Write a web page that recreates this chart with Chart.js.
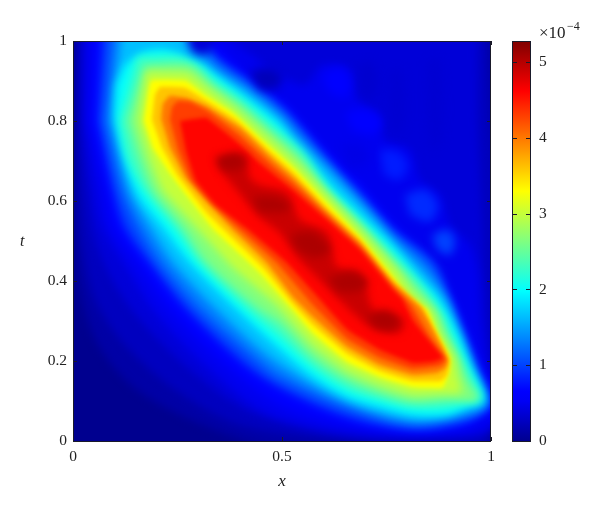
<!DOCTYPE html>
<html>
<head>
<meta charset="utf-8">
<script src="https://cdn.jsdelivr.net/npm/chart.js@4"></script>
<style>
body { margin: 0; background: #fff; }
#wrap { position: relative; width: 600px; height: 512px; overflow: hidden; }
canvas { position: absolute; top: 0; }
.lbl { position: absolute; font-family: "Liberation Serif", serif; color: #222; white-space: nowrap; }
</style>
</head>
<body>
<div id="wrap">
  <canvas id="main" width="600" height="512" style="left:0"></canvas>
  <canvas id="bar" width="100" height="512" style="left:500px"></canvas>
  <span class="lbl" style="left:20px;top:232px;font-size:16px;font-style:italic">t</span>
  <span class="lbl" style="left:539px;top:23px;font-size:17px">×10</span>
  <span class="lbl" style="left:567px;top:19px;font-size:12px">−4</span>
</div>
<script>
// axis ticks
var xTicks = [0, 0.5, 1];
var yTicks = [0, 0.2, 0.4, 0.6, 0.8, 1];
var barTicks = [0, 1, 2, 3, 4, 5];
var barMax = 5.28;

// filled contours, [x, t] pairs, value in 1e-4
var c000 = [[-.05,-.05],[1.05,-.05],[1.05,1.05],[-.05,1.05]];
var c012 = [[.002,1.03],[.005,.603],[.017,.378],[.06,.24],[.15,.13],[.30,.045],[.5,-.02],[1.03,-.02],[1.03,1.03]];
var c025 = [[.012,1.03],[.012,.728],[.022,.503],[.053,.353],[.124,.24],[.244,.128],[.40,.04],[.639,.003],[.995,.008],[.99,1.03]];
var c038 = [[.022,1.03],[.022,.778],[.036,.603],[.053,.503],[.093,.403],[.16,.303],[.28,.178],[.423,.073],[.651,.013],[.89,.008],[.99,.033],[.981,.478],[.969,.803],[.969,1.03]];
var c050 = [[.029,1.03],[.328,1.03],[.411,.978],[.483,.923],[.555,.89],[.596,.94],[.663,.928],[.682,.853],[.73,.815],[.746,.753],[.806,.728],[.83,.653],[.878,.615],[.902,.54],[.95,.49],[.969,.415],[.974,.303],[.993,.178],[1.03,.083],[.993,.028],[.895,.013],[.651,.023],[.459,.073],[.316,.19],[.196,.323],[.124,.44],[.072,.533],[.053,.625],[.029,.80]];
var c066 = [[.048,1.03],[.297,1.03],[.364,.973],[.428,.903],[.512,.84],[.55,.795],[.608,.728],[.687,.645],[.766,.545],[.837,.47],[.909,.36],[.945,.27],[.976,.185],[1.03,.083],[.974,.053],[.943,.033],[.813,.02],[.656,.04],[.495,.09],[.359,.195],[.232,.328],[.153,.445],[.096,.533],[.077,.625],[.041,.80]];
var c100 = [[.072,1.03],[.275,1.03],[.356,.95],[.428,.898],[.507,.83],[.548,.783],[.608,.71],[.687,.623],[.766,.53],[.864,.448],[.902,.36],[.938,.27],[.969,.185],[.998,.09],[.943,.048],[.813,.028],[.656,.06],[.495,.133],[.407,.195],[.273,.328],[.184,.445],[.124,.533],[.096,.625],[.06,.80]];
var c130 = [[.096,1.03],[.251,1.03],[.352,.938],[.423,.885],[.50,.82],[.543,.77],[.608,.693],[.687,.603],[.766,.515],[.849,.44],[.895,.358],[.93,.27],[.962,.185],[.993,.093],[.943,.06],[.813,.04],[.656,.083],[.495,.158],[.447,.195],[.304,.328],[.208,.445],[.156,.533],[.117,.625],[.077,.80]];
var c165 = [[.117,1.03],[.232,1.03],[.344,.923],[.416,.875],[.495,.808],[.536,.758],[.62,.668],[.699,.58],[.766,.50],[.84,.423],[.89,.353],[.923,.27],[.955,.185],[.988,.098],[.943,.073],[.813,.053],[.656,.098],[.488,.195],[.344,.328],[.239,.445],[.184,.533],[.136,.625],[.093,.80]];
var c200 = [[.124,.94],[.172,.973],[.22,.978],[.28,.953],[.335,.918],[.411,.86],[.488,.798],[.526,.745],[.608,.648],[.687,.565],[.766,.485],[.83,.403],[.871,.36],[.919,.27],[.95,.185],[.981,.103],[.943,.085],[.895,.065],[.813,.065],[.734,.085],[.656,.11],[.574,.16],[.495,.228],[.392,.328],[.28,.445],[.215,.533],[.151,.625],[.103,.80],[.103,.89]];
var c230 = [[.153,.96],[.256,.96],[.304,.935],[.337,.903],[.404,.853],[.478,.788],[.55,.723],[.608,.635],[.687,.553],[.766,.468],[.825,.403],[.885,.315],[.904,.27],[.938,.195],[.955,.158],[.976,.103],[.95,.098],[.895,.083],[.813,.083],[.734,.103],[.656,.13],[.574,.185],[.495,.26],[.419,.328],[.304,.445],[.246,.53],[.172,.625],[.132,.703],[.112,.80]];
var c265 = [[.172,.938],[.28,.938],[.333,.89],[.397,.843],[.471,.775],[.543,.708],[.608,.62],[.687,.538],[.766,.448],[.818,.39],[.871,.323],[.892,.27],[.923,.205],[.94,.158],[.969,.103],[.895,.103],[.813,.098],[.734,.12],[.656,.153],[.574,.21],[.495,.295],[.447,.328],[.321,.445],[.263,.533],[.191,.625],[.16,.703],[.132,.80]];
var c300 = [[.175,.923],[.275,.92],[.328,.878],[.39,.83],[.462,.765],[.533,.698],[.615,.61],[.694,.523],[.775,.428],[.809,.375],[.859,.325],[.88,.27],[.914,.208],[.921,.163],[.931,.12],[.895,.118],[.813,.115],[.734,.14],[.656,.175],[.574,.24],[.488,.34],[.383,.433],[.299,.53],[.215,.625],[.184,.703],[.156,.80]];
var c330 = [[.17,.80],[.187,.90],[.27,.90],[.316,.865],[.383,.82],[.452,.753],[.526,.685],[.608,.595],[.687,.51],[.766,.41],[.799,.36],[.847,.328],[.871,.27],[.902,.208],[.90,.173],[.885,.133],[.813,.135],[.734,.16],[.656,.198],[.574,.27],[.526,.328],[.447,.42],[.337,.528],[.263,.625],[.232,.668],[.191,.733]];
var c360 = [[.189,.803],[.196,.865],[.208,.885],[.268,.883],[.316,.853],[.39,.803],[.467,.728],[.526,.673],[.608,.583],[.687,.503],[.766,.403],[.84,.33],[.861,.285],[.892,.223],[.90,.198],[.895,.165],[.88,.15],[.813,.15],[.734,.175],[.656,.218],[.574,.29],[.526,.343],[.455,.433],[.361,.528],[.318,.573],[.251,.663],[.213,.733]];
var c400 = [[.211,.805],[.215,.843],[.232,.863],[.27,.858],[.318,.838],[.40,.783],[.478,.705],[.526,.66],[.608,.573],[.687,.495],[.766,.395],[.83,.335],[.849,.303],[.878,.245],[.897,.203],[.892,.183],[.871,.17],[.813,.165],[.734,.19],[.656,.235],[.574,.31],[.526,.36],[.464,.445],[.383,.528],[.318,.60],[.27,.658],[.232,.733]];
var c430 = [[.232,.803],[.237,.835],[.251,.85],[.28,.848],[.323,.825],[.395,.768],[.478,.688],[.526,.645],[.608,.563],[.687,.485],[.766,.385],[.809,.34],[.83,.303],[.856,.258],[.892,.203],[.878,.188],[.813,.18],[.734,.208],[.656,.255],[.574,.34],[.488,.445],[.40,.528],[.33,.595],[.282,.653],[.251,.728]];
var c460 = [[.256,.80],[.318,.808],[.39,.75],[.447,.695],[.526,.628],[.608,.553],[.687,.478],[.766,.378],[.789,.353],[.813,.303],[.837,.27],[.885,.208],[.861,.198],[.813,.195],[.734,.228],[.656,.278],[.574,.373],[.512,.445],[.419,.528],[.342,.59],[.294,.65],[.27,.725]];
var c490 = [[.344,.703],[.411,.715],[.423,.658],[.447,.64],[.512,.62],[.543,.553],[.608,.52],[.632,.435],[.687,.42],[.722,.323],[.789,.303],[.782,.272],[.727,.278],[.675,.315],[.608,.385],[.543,.453],[.495,.52],[.447,.56],[.395,.623],[.356,.673]];

// ridge peaks along the diagonal
var peak1 = [[.34,.708],[.388,.72],[.411,.703],[.40,.678],[.356,.678]];
var peak2 = [[.428,.61],[.483,.61],[.519,.59],[.507,.573],[.447,.573]];
var peak3 = [[.519,.515],[.572,.523],[.615,.478],[.579,.458],[.536,.478]];
var peak4 = [[.61,.408],[.663,.423],[.706,.398],[.682,.373],[.634,.373]];
var peak5 = [[.703,.313],[.746,.328],[.782,.303],[.763,.278],[.722,.283]];

// lighter spots and darker stripes in the upper right
var spot1 = [[.596,.915],[.639,.933],[.663,.898],[.651,.858],[.61,.873]];
var spot2 = [[.651,.823],[.703,.828],[.739,.798],[.715,.765],[.667,.778]];
var spot3 = [[.734,.728],[.778,.723],[.801,.69],[.782,.653],[.744,.665]];
var spot4 = [[.794,.615],[.842,.628],[.873,.59],[.854,.548],[.806,.565]];
var spot5 = [[.859,.515],[.895,.528],[.914,.503],[.902,.465],[.871,.478]];
var dark1 = [[.275,1.03],[.34,1.03],[.332,.978],[.304,.965],[.28,.978]];
var dark2 = [[.423,.923],[.466,.933],[.50,.913],[.49,.883],[.447,.878]];
var dark3 = [[.682,.94],[.715,.948],[.73,.89],[.715,.853],[.687,.865]];
var dark4 = [[.758,.928],[.787,.928],[.794,.79],[.77,.765],[.754,.828]];
var dark5 = [[.849,.953],[.878,.953],[.883,.753],[.859,.728],[.847,.828]];
var dark6 = [[.639,.74],[.691,.74],[.706,.698],[.663,.678]];

var layers = [
  [0, c000], [.12, c012], [.25, c025], [.38, c038], [.5, c050], [.66, c066],
  [1, c100], [1.3, c130], [1.65, c165], [2, c200], [2.3, c230], [2.65, c265],
  [3, c300], [3.3, c330], [3.6, c360], [4, c400], [4.3, c430], [4.6, c460], [4.9, c490],
  [5.05, peak1], [5.05, peak2], [5.05, peak3], [5.05, peak4], [5.05, peak5],
  [.6, spot1], [.66, spot2], [.8, spot3], [.88, spot4], [1, spot5],
  [.38, dark1], [.22, dark2], [.33, dark3], [.35, dark4], [.35, dark5], [.45, dark6]
];

function jet(v) {
    var f = v / barMax;
    var r = Math.min(4 * f - 1.5, 4.5 - 4 * f);
    var g = Math.min(4 * f - 0.5, 3.5 - 4 * f);
    var b = Math.min(4 * f + 0.56, 2.5 - 4 * f);
    var c = function (n) { return Math.round(255 * Math.max(0, Math.min(1, n))); };
    return "rgb(" + c(r) + "," + c(g) + "," + c(b) + ")";
}

var serif = { family: "'Liberation Serif', serif", size: 15.5 };
var ink = "#222";

var datasets = layers.map(function (l, i) {
    return {
        data: l[1].map(function (p) { return { x: p[0], y: p[1] }; }),
        fill: "shape",
        backgroundColor: jet(l[0]),
        borderWidth: 0,
        pointRadius: 0,
        tension: (l[0] >= 3 && l[0] < 4.9) ? 0.1 : 0.3,
        order: layers.length - i
    };
});

// outer bands and the dark ridge get a wider blur, the ridge tips stay sharper
function blurFor(i) {
    var v = layers[i] ? layers[i][0] : 0;
    if (i > 23) return "blur(5px)";
    if (i > 17) return "blur(4px)";
    return v >= 3.3 ? "blur(2px)" : "blur(4px)";
}

var softBands = {
    id: "softBands",
    beforeDatasetsDraw: function (chart) { chart.ctx.filter = blurFor(0); },
    afterDatasetDraw: function (chart, args) { chart.ctx.filter = blurFor(args.index + 1); },
    afterDatasetsDraw: function (chart) { chart.ctx.filter = "none"; }
};

// matlab style box with ticks pointing inwards
var boxTicks = {
    id: "boxTicks",
    afterDraw: function (chart) {
        var a = chart.chartArea, ctx = chart.ctx;
        var len = chart.canvas.id == "bar" ? 5 : 4;
        ctx.save();
        ctx.strokeStyle = "#1a1a2a";
        ctx.lineWidth = 1;
        ctx.strokeRect(a.left + 0.5, a.top + 0.5, a.right - a.left - 1, a.bottom - a.top);
        ctx.beginPath();
        chart.scales.y.ticks.forEach(function (t) {
            var py = Math.round(chart.scales.y.getPixelForValue(t.value)) + 0.5;
            ctx.moveTo(a.left, py); ctx.lineTo(a.left + len, py);
            ctx.moveTo(a.right, py); ctx.lineTo(a.right - len, py);
        });
        if (chart.canvas.id != "bar") {
            chart.scales.x.ticks.forEach(function (t) {
                var px = Math.round(chart.scales.x.getPixelForValue(t.value)) + 0.5;
                ctx.moveTo(px, a.bottom); ctx.lineTo(px, a.bottom - len);
                ctx.moveTo(px, a.top); ctx.lineTo(px, a.top + len);
            });
        }
        ctx.stroke();
        ctx.restore();
    }
};

function setTicks(list) {
    return function (scale) {
        scale.ticks = list.map(function (v) { return { value: v }; });
    };
}

new Chart(document.getElementById("main"), {
    type: "line",
    data: { datasets: datasets },
    plugins: [softBands, boxTicks],
    options: {
        responsive: false,
        animation: false,
        events: [],
        elements: { line: { capBezierPoints: false } },
        layout: { padding: { top: 41, right: 109, left: 0, bottom: 0 } },
        plugins: { legend: { display: false }, tooltip: { enabled: false } },
        scales: {
            x: {
                type: "linear", min: 0, max: 1,
                grid: { display: false, drawTicks: false }, border: { display: false },
                afterBuildTicks: setTicks(xTicks),
                afterFit: function (s) { s.height = 71; },
                ticks: { color: ink, font: serif, padding: 7, maxRotation: 0, callback: function (v) { return String(v); } },
                title: { display: true, text: "x", color: ink, padding: { top: 0, bottom: 20 },
                    font: { family: serif.family, size: 17, style: "italic" } }
            },
            y: {
                type: "linear", min: 0, max: 1,
                grid: { display: false, drawTicks: false }, border: { display: false },
                afterBuildTicks: setTicks(yTicks),
                afterFit: function (s) { s.width = 73; },
                ticks: { color: ink, font: serif, padding: 6, callback: function (v) { return String(v); } }
            }
        }
    }
});

new Chart(document.getElementById("bar"), {
    type: "bar",
    data: {
        labels: ["v"],
        datasets: [{
            data: [[0, barMax]],
            barPercentage: 1,
            categoryPercentage: 1,
            backgroundColor: function (ctx) {
                var a = ctx.chart.chartArea;
                if (!a) return "#000";
                var g = ctx.chart.ctx.createLinearGradient(0, a.bottom, 0, a.top);
                for (var i = 0; i <= 40; i++) g.addColorStop(i / 40, jet(barMax * i / 40));
                return g;
            }
        }]
    },
    plugins: [boxTicks],
    options: {
        responsive: false,
        animation: false,
        events: [],
        layout: { padding: { top: 41, left: 12, right: 0, bottom: 71 } },
        plugins: { legend: { display: false }, tooltip: { enabled: false } },
        scales: {
            x: { display: false },
            y: {
                position: "right", min: 0, max: barMax,
                grid: { display: false, drawTicks: false }, border: { display: false },
                afterBuildTicks: setTicks(barTicks),
                afterFit: function (s) { s.width = 69; },
                ticks: { color: ink, font: serif, padding: 8, callback: function (v) { return String(v); } }
            }
        }
    }
});
</script>
</body>
</html>
